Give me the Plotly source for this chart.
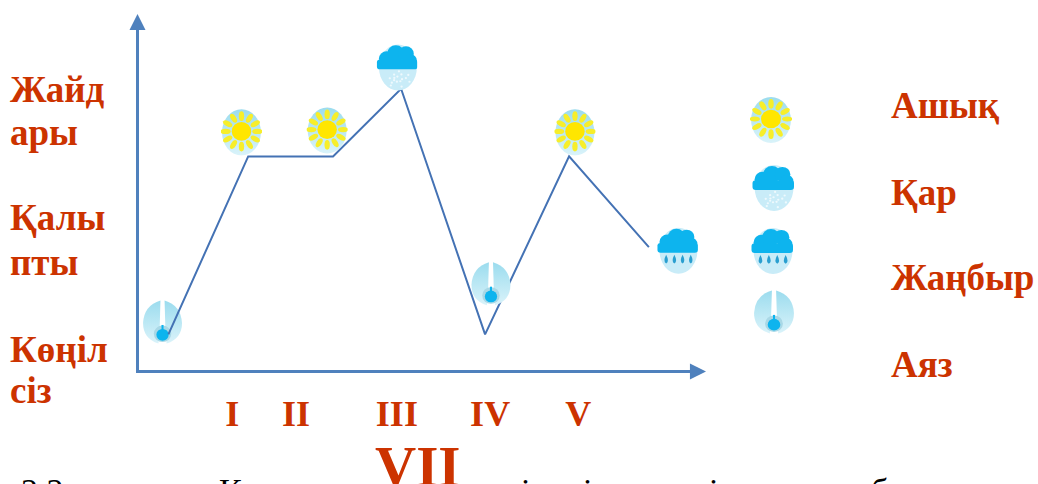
import base64
import math
import plotly.graph_objects as go

# chart values, axis units
days = [0.35, 1.30, 2.31, 3.12, 4.12, 5.12, 6.07]
mood = [0.40, 2.40, 2.40, 3.16, 0.40, 2.40, 1.38]
day_ticks = [1.11, 1.87, 3.07, 4.18, 5.23]
day_labels = ["I", "II", "III", "IV", "V"]
month_label = "VII"
mood_labels = ["Жайд", "ары", "Қалы", "пты", "Көңіл", "сіз"]
mood_label_y = [90, 132, 218, 262, 349, 390]
weather_names = ["Ашық", "Қар", "Жаңбыр", "Аяз"]
weather_name_y = [105, 192, 277, 364]
icon_kinds = ["frost", "sun", "sun", "snow", "frost", "sun", "rain"]
icon_days = [0.28, 1.22, 2.24, 3.07, 4.19, 5.19, 6.41]
icon_mood = [0.55, 2.67, 2.69, 3.40, 0.98, 2.67, 1.34]
legend_kinds = ["sun", "snow", "rain", "frost"]
legend_icon_x = [771, 773, 772, 774]
legend_icon_y = [120, 188, 251, 311]
caption_bits = [("2.2", 19), ("К", 217), ("і", 519), ("і", 581), ("і", 707), ("б", 869)]

W, H = 1038, 484
RED = "#cc3300"
AXIS = "#4f81bd"
X0, X1 = 139, 698   # x axis in pixels
Y0, Y1 = 370, 22    # y axis in pixels
X_UNIT = 84
Y_UNIT = 89


def px_x(v):
    return v / W


def px_y(v):
    return 1 - v / H


def day_to_paper(d):
    return (X0 + d * X_UNIT) / W


def mood_to_paper(m):
    return 1 - (Y0 - m * Y_UNIT) / H


CLOUD = ('<g fill="#0db4ee"><circle cx="10" cy="15" r="7.5"/><circle cx="19" cy="10" r="8.5"/>'
         '<circle cx="29" cy="10" r="7.5"/><circle cx="33" cy="17" r="6.5"/>'
         '<rect x="0.5" y="16" width="39.5" height="10" rx="3"/></g>')


def icon_svg(kind):
    g = ""
    if kind == "sun":
        g += '<ellipse cx="20" cy="24" rx="19" ry="23.5" fill="url(#bg)"/>'
        for i in range(12):
            g += ('<ellipse cx="20" cy="7.5" rx="2.6" ry="5" fill="#f7ee2a" '
                  'transform="rotate(%d 20 23)"/>' % (i * 30))
        g += '<circle cx="20" cy="23" r="9.5" fill="#ffe600"/>'
    elif kind == "snow":
        g += '<ellipse cx="21" cy="24" rx="18.5" ry="23.5" fill="#c9ecf8"/>'
        for i in range(16):
            g += '<circle cx="%.1f" cy="%.1f" r="1.1" fill="#eef9fd"/>' % (
                21 + 12 * math.cos(i * 2.4) * (i % 3 + 1) / 3,
                36 + 8 * math.sin(i * 2.4) * (i % 3 + 1) / 3)
        g += CLOUD
    elif kind == "rain":
        g += '<ellipse cx="21" cy="24" rx="18.5" ry="23.5" fill="#c9ecf8"/>'
        g += CLOUD
        for x in (9, 17, 25, 33):
            g += '<path d="M%s,28 q3.5,7 0,9 q-3.5,-2 0,-9Z" fill="#2a9fd0"/>' % x
    else:
        g += '<path d="M18,3 Q2,8 1,26 Q1,42 16,47 L17,38 Z" fill="url(#bg)"/>'
        g += '<path d="M22,3 Q38,8 39,26 Q39,42 24,47 L23,38 Z" fill="url(#bg)"/>'
        g += '<circle cx="20" cy="37" r="8.5" fill="#a9d8e6"/>'
        g += '<circle cx="20" cy="38" r="6" fill="#0db4ee"/>'
        g += '<path d="M19,28 h2 v6 h-2Z" fill="#0db4ee"/>'
    svg = ('<svg xmlns="http://www.w3.org/2000/svg" width="160" height="192" viewBox="0 0 40 48">'
           '<defs><linearGradient id="bg" x1="0" y1="0" x2="0" y2="1">'
           '<stop offset="0" stop-color="#9bdcee"/><stop offset="1" stop-color="#daf3fa"/>'
           '</linearGradient><filter id="b"><feGaussianBlur stdDeviation="0.35"/></filter></defs>'
           '<g filter="url(#b)">' + g + '</g></svg>')
    return "data:image/svg+xml;base64," + base64.b64encode(svg.encode()).decode()


fig = go.Figure()
fig.add_trace(go.Scatter(x=days, y=mood, mode="lines",
                         line=dict(color="#4472b4", width=2), hoverinfo="skip"))

images = []
for i, (kind, d, m) in enumerate(zip(icon_kinds, icon_days, icon_mood)):
    images.append(dict(source=icon_svg(kind), xref="paper", yref="paper",
                       x=day_to_paper(d), y=mood_to_paper(m),
                       sizex=41 / W, sizey=47 / H, xanchor="center", yanchor="middle",
                       sizing="stretch", layer="below" if i == 0 else "above"))
for kind, x, y in zip(legend_kinds, legend_icon_x, legend_icon_y):
    images.append(dict(source=icon_svg(kind), xref="paper", yref="paper",
                       x=px_x(x), y=px_y(y), sizex=42 / W, sizey=47 / H,
                       xanchor="center", yanchor="middle", sizing="stretch"))

notes = []
label_font = dict(family="Liberation Serif", size=37, color=RED)
for text, y in zip(mood_labels, mood_label_y):
    notes.append(dict(text="<b>%s</b>" % text, xref="paper", yref="paper", x=px_x(8), y=px_y(y),
                      xanchor="left", yanchor="middle", align="left", showarrow=False,
                      font=label_font))
for text, y in zip(weather_names, weather_name_y):
    notes.append(dict(text="<b>%s</b>" % text, xref="paper", yref="paper", x=px_x(889), y=px_y(y),
                      xanchor="left", yanchor="middle", showarrow=False, font=label_font))
for text, x in caption_bits:
    notes.append(dict(text=text, xref="paper", yref="paper", x=px_x(x), y=px_y(470),
                      xanchor="left", yanchor="top", showarrow=False,
                      font=dict(family="Liberation Serif", size=34, color="black")))
notes.append(dict(text="<b>%s</b>" % month_label, xref="paper", yref="paper", x=px_x(418), y=px_y(433),
                  xanchor="center", yanchor="top", showarrow=False,
                  font=dict(family="Liberation Serif", size=57, color=RED)))
# axis arrow heads
notes.append(dict(text="", xref="paper", yref="paper", x=px_x(706), y=px_y(Y0 + 1.5),
                  axref="pixel", ayref="pixel", ax=-14, ay=0, showarrow=True,
                  arrowhead=2, arrowsize=1.07, arrowwidth=3, arrowcolor=AXIS))
notes.append(dict(text="", xref="paper", yref="paper", x=px_x(X0 - 1.5), y=px_y(14),
                  axref="pixel", ayref="pixel", ax=0, ay=14, showarrow=True,
                  arrowhead=2, arrowsize=1.07, arrowwidth=3, arrowcolor=AXIS))

fig.update_layout(
    width=W, height=H,
    margin=dict(l=0, r=0, t=0, b=0),
    paper_bgcolor="white", plot_bgcolor="rgba(0,0,0,0)",
    showlegend=False,
    images=images, annotations=notes,
    xaxis=dict(domain=[px_x(X0), px_x(X1)], range=[0, (X1 - X0) / X_UNIT],
               tickmode="array", tickvals=day_ticks, ticktext=["<b>%s</b>" % s for s in day_labels],
               tickfont=dict(family="Liberation Serif", size=36, color=RED),
               ticks="", showgrid=False, zeroline=False,
               showline=True, linecolor=AXIS, linewidth=3, ticklabelstandoff=10),
    yaxis=dict(domain=[px_y(Y0), px_y(Y1)], range=[0, (Y0 - Y1) / Y_UNIT],
               showticklabels=False, ticks="", showgrid=False, zeroline=False,
               showline=True, linecolor=AXIS, linewidth=3),
)

fig.write_html("out.html", config={"displayModeBar": False},
               post_script="document.body.style.margin='0';document.body.style.overflow='hidden';")
